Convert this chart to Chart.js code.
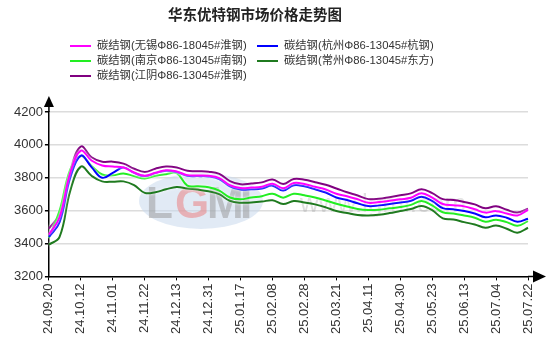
<!DOCTYPE html>
<html lang="zh">
<head>
    <meta charset="UTF-8">
    <title>华东优特钢市场价格走势图</title>
    <script src="https://cdn.jsdelivr.net/npm/chart.js"></script>
    <style>
        html, body { margin: 0; padding: 0; background: #fff; }
        #wrap { width: 554px; height: 359px; }
    </style>
</head>
<body>
    <div id="wrap"><canvas id="lineChart"></canvas></div>

    <script>
        const FONT = "'Liberation Sans', 'Noto Sans CJK SC', Arial, sans-serif";

        const chartTitle = '华东优特钢市场价格走势图';
        const tickLabels = ['24.09.20', '24.10.12', '24.11.01', '24.11.22', '24.12.13', '24.12.31', '25.01.17', '25.02.08',
            '25.02.28', '25.03.21', '25.04.11', '25.04.30', '25.05.23', '25.06.13', '25.07.04', '25.07.22'];
        // one point every 5 trading days, a date label on every third point
        const categories = Array.from({ length: 46 }, (_, i) => i % 3 === 0 ? tickLabels[i / 3] : '');

        const seriesNames = ['碳结钢(无锡Φ86-18045#淮钢)', '碳结钢(杭州Φ86-13045#杭钢)', '碳结钢(南京Φ86-13045#南钢)',
            '碳结钢(常州Φ86-13045#东方)', '碳结钢(江阴Φ86-13045#淮钢)'];
        const seriesColors = ['#ff00ff', '#0000ff', '#22ee22', '#1f7a1f', '#800080'];

        const wuxi = [3455, 3560, 3830, 3965, 3905, 3875, 3868, 3862, 3832, 3812, 3830, 3846, 3838, 3816, 3814, 3812,
            3798, 3755, 3737, 3740, 3745, 3764, 3736, 3768, 3762, 3745, 3729, 3703, 3688, 3669, 3648, 3652,
            3660, 3669, 3678, 3706, 3679, 3640, 3633, 3626, 3608, 3588, 3597, 3583, 3571, 3605];
        const hangzhou = [3440, 3530, 3800, 3935, 3865, 3800, 3830, 3862, 3830, 3810, 3828, 3843, 3835, 3812, 3810, 3808,
            3792, 3748, 3728, 3730, 3735, 3752, 3722, 3755, 3748, 3730, 3710, 3680, 3665, 3645, 3628, 3632,
            3640, 3650, 3660, 3685, 3659, 3615, 3608, 3598, 3583, 3560, 3571, 3557, 3532, 3551];
        const nanjing = [3435, 3600, 3850, 3932, 3872, 3820, 3815, 3826, 3810, 3795, 3812, 3822, 3828, 3752, 3748, 3742,
            3722, 3680, 3669, 3680, 3688, 3703, 3679, 3703, 3693, 3680, 3662, 3642, 3625, 3610, 3604, 3606,
            3614, 3622, 3635, 3659, 3632, 3590, 3583, 3571, 3557, 3533, 3545, 3530, 3508, 3536];
        const changzhou = [3393, 3440, 3720, 3868, 3812, 3778, 3776, 3778, 3755, 3708, 3712, 3730, 3744, 3735, 3728, 3718,
            3700, 3660, 3648, 3650, 3655, 3663, 3640, 3659, 3650, 3638, 3620, 3598, 3585, 3573, 3570, 3575,
            3585, 3598, 3610, 3628, 3603, 3553, 3546, 3530, 3516, 3496, 3510, 3490, 3466, 3496];
        const jiangyin = [3490, 3580, 3840, 3990, 3925, 3898, 3898, 3886, 3855, 3835, 3855, 3868, 3862, 3842, 3840, 3837,
            3824, 3780, 3760, 3765, 3772, 3790, 3762, 3792, 3788, 3773, 3757, 3735, 3712, 3692, 3670, 3672,
            3682, 3693, 3705, 3730, 3706, 3670, 3665, 3653, 3638, 3614, 3627, 3605, 3588, 3612];

        const yMin = 3200;
        const yMax = 4200;
        const yStep = 200;

        // title, two-column legend, watermark, axis arrows, white halo round the lines
        const decorations = {
            id: 'decorations',
            beforeDatasetsDraw(chart) {
                const ctx = chart.ctx;
                ctx.save();
                ctx.beginPath();
                ctx.ellipse(201, 201, 62, 28, 0, 0, Math.PI * 2);
                ctx.fillStyle = 'rgba(200, 216, 236, 0.55)';
                ctx.fill();
                ctx.font = 'bold 44px ' + FONT;
                ctx.textBaseline = 'alphabetic';
                ctx.fillStyle = 'rgba(150, 150, 150, 0.5)';
                ctx.fillText('L', 146, 218);
                ctx.fillStyle = 'rgba(235, 120, 120, 0.5)';
                ctx.fillText('G', 175, 218);
                ctx.fillStyle = 'rgba(150, 150, 150, 0.5)';
                ctx.fillText('M', 207, 218);
                ctx.fillText('I', 240, 218);
                ctx.font = '26px ' + FONT;
                ctx.fillStyle = 'rgba(160, 160, 160, 0.35)';
                ctx.fillText('www.lgmi.com', 300, 212);
                ctx.restore();
            },
            beforeDatasetDraw(chart) {
                const ctx = chart.ctx;
                ctx.save();
                ctx.shadowColor = 'rgba(255, 255, 255, 1)';
                ctx.shadowBlur = 3;
            },
            afterDatasetDraw(chart) {
                chart.ctx.restore();
            },
            afterDraw(chart) {
                const ctx = chart.ctx;
                const area = chart.chartArea;
                ctx.save();

                ctx.fillStyle = '#222';
                ctx.font = 'bold 14.5px ' + FONT;
                ctx.textAlign = 'center';
                ctx.textBaseline = 'middle';
                ctx.fillText(chartTitle, 255, 16);

                ctx.font = '11.3px ' + FONT;
                ctx.textAlign = 'left';
                const cols = [70, 257];
                const rows = [46, 61, 76];
                seriesNames.forEach((name, i) => {
                    const x = cols[i % 2];
                    const y = rows[Math.floor(i / 2)];
                    ctx.strokeStyle = seriesColors[i];
                    ctx.lineWidth = 2;
                    ctx.beginPath();
                    ctx.moveTo(x, y);
                    ctx.lineTo(x + 21, y);
                    ctx.stroke();
                    ctx.fillStyle = '#333';
                    ctx.fillText(name, x + 27, y);
                });

                // axis arrows
                ctx.strokeStyle = '#000';
                ctx.fillStyle = '#000';
                ctx.lineWidth = 1.5;
                ctx.beginPath();
                ctx.moveTo(area.left, area.top);
                ctx.lineTo(area.left, 104);
                ctx.moveTo(area.right, area.bottom);
                ctx.lineTo(536, area.bottom);
                ctx.stroke();
                ctx.beginPath();
                ctx.moveTo(area.left, 96);
                ctx.lineTo(area.left - 5, 107);
                ctx.lineTo(area.left + 5, 107);
                ctx.closePath();
                ctx.fill();
                ctx.beginPath();
                ctx.moveTo(546, area.bottom);
                ctx.lineTo(533, area.bottom - 6);
                ctx.lineTo(533, area.bottom + 6);
                ctx.closePath();
                ctx.fill();
                ctx.restore();
            }
        };

        const datasets = [wuxi, hangzhou, nanjing, changzhou, jiangyin].map((values, i) => ({
            label: seriesNames[i],
            data: values,
            borderColor: seriesColors[i],
            backgroundColor: seriesColors[i],
            borderWidth: 2,
            pointRadius: 0,
            tension: 0.4,
            fill: false
        }));

        new Chart(document.getElementById('lineChart').getContext('2d'), {
            type: 'line',
            data: { labels: categories, datasets: datasets },
            options: {
                responsive: true,
                maintainAspectRatio: false,
                animation: false,
                layout: { padding: { top: 112, right: 26, left: 12, bottom: 22 } },
                plugins: {
                    legend: { display: false },
                    title: { display: false },
                    tooltip: { enabled: false }
                },
                scales: {
                    x: {
                        afterBuildTicks: axis => {
                            axis.ticks = axis.ticks.filter(t => t.value % 3 === 0);
                        },
                        ticks: {
                            autoSkip: false,
                            minRotation: 90,
                            maxRotation: 90,
                            padding: 3,
                            color: '#333',
                            font: { family: FONT, size: 13 },
                            callback: function (value) { return this.getLabelForValue(value); }
                        },
                        grid: { drawOnChartArea: false, drawTicks: true, tickLength: 4, tickColor: '#000' },
                        border: { color: '#000', width: 1.5 }
                    },
                    y: {
                        min: yMin,
                        max: yMax,
                        ticks: {
                            stepSize: yStep,
                            padding: 2,
                            color: '#333',
                            font: { family: FONT, size: 13 },
                            callback: value => String(value)
                        },
                        grid: { color: '#dcdcdc', lineWidth: 1.5, tickLength: 4, tickColor: '#000' },
                        border: { color: '#000', width: 1.5 }
                    }
                }
            },
            plugins: [decorations]
        });
    </script>
</body>
</html>
